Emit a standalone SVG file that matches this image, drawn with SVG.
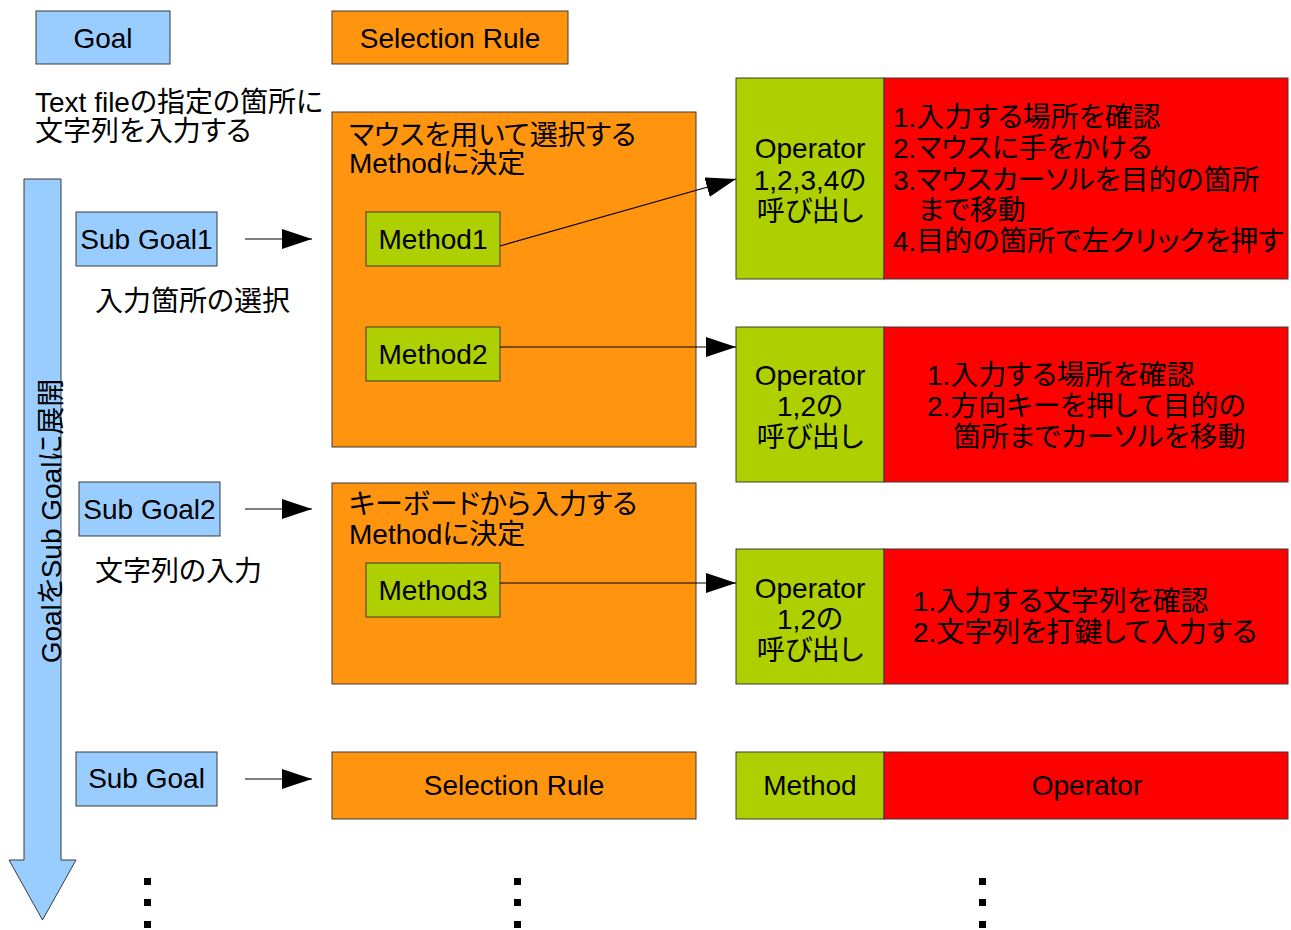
<svg xmlns="http://www.w3.org/2000/svg" width="1291" height="930" viewBox="0 0 1291 930">
<defs>
<style>
text{font-family:"Liberation Sans","Noto Sans CJK JP",sans-serif;font-size:28px;fill:#000;font-feature-settings:"palt" 1}
.c{text-anchor:middle}
.b{fill:#99ccff;stroke:#3a3a3a;stroke-width:1}
.o{fill:#ff950e;stroke:#3a3a3a;stroke-width:1}
.g{fill:#aecf00;stroke:#3a3a3a;stroke-width:1}
.r{fill:#ff0000;stroke:#3a3a3a;stroke-width:1}
.ln{stroke:#000;stroke-width:1.2;fill:none;marker-end:url(#ah)}
.dot{fill:#000}
</style>
<marker id="ah" markerUnits="userSpaceOnUse" markerWidth="30" markerHeight="20" refX="30" refY="10" orient="auto" viewBox="0 0 30 20">
<path d="M0,0 L30,10 L0,20 z" fill="#000"/>
</marker>
</defs>
<rect width="1291" height="930" fill="#fff"/>

<g id="legend-goal"><rect class="b" x="36" y="11" width="134" height="53"/><text class="c" x="103" y="48">Goal</text></g>
<g id="legend-selection"><rect class="o" x="332" y="11" width="236" height="53"/><text class="c" x="450" y="48">Selection Rule</text></g>

<g id="goal-text"><text x="35" y="112">Text fileの指定の箇所に</text><text x="35" y="141">文字列を入力する</text></g>

<g id="expand-arrow">
<polygon class="b" points="24,179 61,179 61,860 76,860 42.5,920 9,860 24,860"/>
<text class="c" transform="translate(61,521) rotate(-90)">GoalをSub Goalに展開</text>
</g>

<g id="subgoal1"><rect class="b" x="76" y="212" width="141" height="54"/><text class="c" x="146.5" y="249">Sub Goal1</text></g>
<g id="subgoal1-label"><text x="95" y="311">入力箇所の選択</text></g>
<g id="subgoal2"><rect class="b" x="79" y="482" width="141" height="54"/><text class="c" x="149.5" y="519">Sub Goal2</text></g>
<g id="subgoal2-label"><text x="95" y="581">文字列の入力</text></g>
<g id="subgoal"><rect class="b" x="76" y="752" width="141" height="54"/><text class="c" x="146.5" y="788">Sub Goal</text></g>

<g id="selection1"><rect class="o" x="332" y="112" width="364" height="335"/><text x="349" y="145">マウスを用いて選択する</text><text x="349" y="173">Methodに決定</text></g>
<g id="method1"><rect class="g" x="366" y="212" width="134" height="54"/><text class="c" x="433" y="249">Method1</text></g>
<g id="method2"><rect class="g" x="366" y="327" width="134" height="54"/><text class="c" x="433" y="364">Method2</text></g>

<g id="selection2"><rect class="o" x="332" y="483" width="364" height="201"/><text x="349" y="514">キーボードから入力する</text><text x="349" y="544">Methodに決定</text></g>
<g id="method3"><rect class="g" x="366" y="563" width="134" height="54"/><text class="c" x="433" y="600">Method3</text></g>

<g id="selection-bottom"><rect class="o" x="332" y="752" width="364" height="67"/><text class="c" x="514" y="795">Selection Rule</text></g>

<g id="operator1">
<rect class="g" x="736" y="78" width="148" height="201"/>
<rect class="r" x="884" y="78" width="404" height="201"/>
<text class="c" x="810" y="158">Operator</text><text class="c" x="810" y="190">1,2,3,4の</text><text class="c" x="810" y="221">呼び出し</text>
<text x="893" y="127">1.入力する場所を確認</text>
<text x="893" y="158">2.マウスに手をかける</text>
<text x="893" y="190">3.マウスカーソルを目的の箇所</text>
<text x="918" y="220">まで移動</text>
<text x="893" y="251">4.目的の箇所で左クリックを押す</text>
</g>

<g id="operator2">
<rect class="g" x="736" y="327" width="148" height="155"/>
<rect class="r" x="884" y="327" width="404" height="155"/>
<text class="c" x="810" y="385">Operator</text><text class="c" x="810" y="416">1,2の</text><text class="c" x="810" y="447">呼び出し</text>
<text x="927" y="385">1.入力する場所を確認</text>
<text x="927" y="416">2.方向キーを押して目的の</text>
<text x="953" y="447">箇所までカーソルを移動</text>
</g>

<g id="operator3">
<rect class="g" x="736" y="549" width="148" height="135"/>
<rect class="r" x="884" y="549" width="404" height="135"/>
<text class="c" x="810" y="598">Operator</text><text class="c" x="810" y="629">1,2の</text><text class="c" x="810" y="660">呼び出し</text>
<text x="913" y="611">1.入力する文字列を確認</text>
<text x="913" y="642">2.文字列を打鍵して入力する</text>
</g>

<g id="method-operator-bottom">
<rect class="g" x="736" y="752" width="148" height="67"/>
<rect class="r" x="884" y="752" width="404" height="67"/>
<text class="c" x="810" y="795">Method</text>
<text class="c" x="1087" y="795">Operator</text>
</g>

<g id="connectors">
<line class="ln" x1="245" y1="239" x2="312" y2="239"/>
<line class="ln" x1="245" y1="509" x2="312" y2="509"/>
<line class="ln" x1="245" y1="779" x2="312" y2="779"/>
<line class="ln" x1="500" y1="246" x2="736" y2="179"/>
<line class="ln" x1="500" y1="347" x2="736" y2="347"/>
<line class="ln" x1="500" y1="583" x2="736" y2="583"/>
</g>

<g id="ellipsis">
<rect class="dot" x="144" y="878" width="7" height="7"/><rect class="dot" x="144" y="899" width="7" height="7"/><rect class="dot" x="144" y="921" width="7" height="7"/>
<rect class="dot" x="514" y="878" width="7" height="7"/><rect class="dot" x="514" y="899" width="7" height="7"/><rect class="dot" x="514" y="921" width="7" height="7"/>
<rect class="dot" x="979" y="878" width="7" height="7"/><rect class="dot" x="979" y="899" width="7" height="7"/><rect class="dot" x="979" y="921" width="7" height="7"/>
</g>
</svg>
